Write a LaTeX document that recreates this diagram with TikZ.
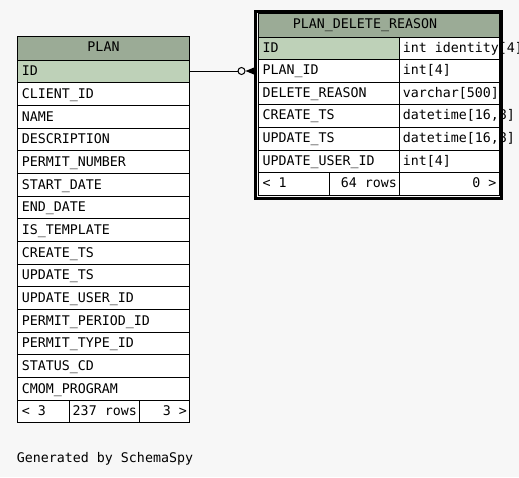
\documentclass[tikz,border=0pt]{standalone}
\usepackage{fontspec}
\newfontfamily\tabfont{DejaVu Sans Mono}
\definecolor{bgc}{HTML}{F7F7F7}
\definecolor{hdrc}{HTML}{9BAB96}
\definecolor{pkc}{HTML}{BED1B8}
\tikzset{
  cellbox/.style={draw=black, line width=1pt, fill=white, inner sep=0pt, outer sep=0pt, anchor=north west},
  hdrbox/.style={cellbox, fill=hdrc},
  pkbox/.style={cellbox, fill=pkc},
  txt/.style={inner sep=0pt, anchor=base west, font=\tabfont\fontsize{13.3}{13.3}\selectfont},
  txtc/.style={txt, anchor=base},
  txte/.style={txt, anchor=base east},
}
\begin{document}
\begin{tikzpicture}[x=1pt,y=-1pt]
\useasboundingbox[fill=bgc] (0,0) rectangle (519,477);

% ---------------- PLAN ----------------
\node[hdrbox, minimum width=172pt, minimum height=24pt] (plan-h) at (17.5,36) {};
\node[txtc] at ([yshift=-15.7pt]plan-h.north) {PLAN};
\node[pkbox, minimum width=172pt, minimum height=22.67pt] (plan-id) at (17.5,60) {};
\node[txt] at ([xshift=4.2pt,yshift=-15.7pt]plan-id.north west) {ID};
\foreach \n [count=\i] in {CLIENT\_ID,NAME,DESCRIPTION,PERMIT\_NUMBER,START\_DATE,END\_DATE,IS\_TEMPLATE,CREATE\_TS,UPDATE\_TS,UPDATE\_USER\_ID,PERMIT\_PERIOD\_ID,PERMIT\_TYPE\_ID,STATUS\_CD,CMOM\_PROGRAM}{
  \node[cellbox, minimum width=172pt, minimum height=22.67pt] (plan-\i) at (17.5,{60+22.67*\i}) {};
  \node[txt] at ([xshift=4.2pt,yshift=-15.7pt]plan-\i.north west) {\n};
}
\node[cellbox, minimum width=52pt, minimum height=22.67pt] (plan-f1) at (17.5,400) {};
\node[cellbox, minimum width=70pt, minimum height=22.67pt] (plan-f2) at (69.5,400) {};
\node[cellbox, minimum width=50pt, minimum height=22.67pt] (plan-f3) at (139.5,400) {};
\node[txt] at ([xshift=4.2pt,yshift=-15.7pt]plan-f1.north west) {< 3};
\node[txte] at ([xshift=-2.5pt,yshift=-15.7pt]plan-f2.north east) {237 rows};
\node[txte] at ([xshift=-2.5pt,yshift=-15.7pt]plan-f3.north east) {3 >};

% ---------------- PLAN_DELETE_REASON ----------------
\node[hdrbox, minimum width=240.5pt, minimum height=23.5pt] (pdr-h) at (258.5,13.5) {};
\node[txtc] at (365,28.4) {PLAN\_DELETE\_REASON};
\node[pkbox, minimum width=141pt, minimum height=22.64pt] (pdr-n0) at (258.5,37) {};
\node[cellbox, minimum width=99.5pt, minimum height=22.64pt] (pdr-t0) at (399.5,37) {};
\node[txt] at ([xshift=3.8pt,yshift=-15pt]pdr-n0.north west) {ID};
\node[txt] at ([xshift=3.2pt,yshift=-15pt]pdr-t0.north west) {int identity[4]};
\foreach \n/\t [count=\i] in {PLAN\_ID/{int[4]},DELETE\_REASON/{varchar[500]},CREATE\_TS/{datetime[16,8]},UPDATE\_TS/{datetime[16,8]},UPDATE\_USER\_ID/{int[4]}}{
  \node[cellbox, minimum width=141pt, minimum height=22.64pt] (pdr-n\i) at (258.5,{37+22.64*\i}) {};
  \node[cellbox, minimum width=99.5pt, minimum height=22.64pt] (pdr-t\i) at (399.5,{37+22.64*\i}) {};
  \node[txt] at ([xshift=3.8pt,yshift=-15pt]pdr-n\i.north west) {\n};
  \node[txt] at ([xshift=3.2pt,yshift=-15pt]pdr-t\i.north west) {\t};
}
\node[cellbox, minimum width=71pt, minimum height=22.64pt] (pdr-f1) at (258.5,172.84) {};
\node[cellbox, minimum width=70pt, minimum height=22.64pt] (pdr-f2) at (329.5,172.84) {};
\node[cellbox, minimum width=99.5pt, minimum height=22.64pt] (pdr-f3) at (399.5,172.84) {};
\node[txt] at ([xshift=3.8pt,yshift=-15pt]pdr-f1.north west) {< 1};
\node[txte] at ([xshift=-2.5pt,yshift=-15pt]pdr-f2.north east) {64 rows};
\node[txte] at ([xshift=-2.5pt,yshift=-15pt]pdr-f3.north east) {0 >};
% thick outer border
\node[draw=black, line width=3pt, inner sep=0pt, outer sep=0pt, anchor=north west,
      minimum width=246pt, minimum height=187.5pt] (pdr-box) at (255.5,11) {};

% ---------------- relationship ----------------
\node[circle, draw=black, line width=1pt, fill=bgc, inner sep=0pt, minimum size=7pt] (odot) at (241.5,71) {};
\coordinate (crowend) at ([xshift=-1.5pt]pdr-box.west |- odot);
\draw[line width=1pt] (plan-id.east |- odot) -- (odot.west);
\fill[black] (odot.east) -- ([yshift=3.5pt]crowend) -- ([yshift=-3.5pt]crowend) -- cycle;

% ---------------- footer ----------------
\node[txt] (gen) at (16.7,462.7) {Generated by SchemaSpy};
\end{tikzpicture}
\end{document}
